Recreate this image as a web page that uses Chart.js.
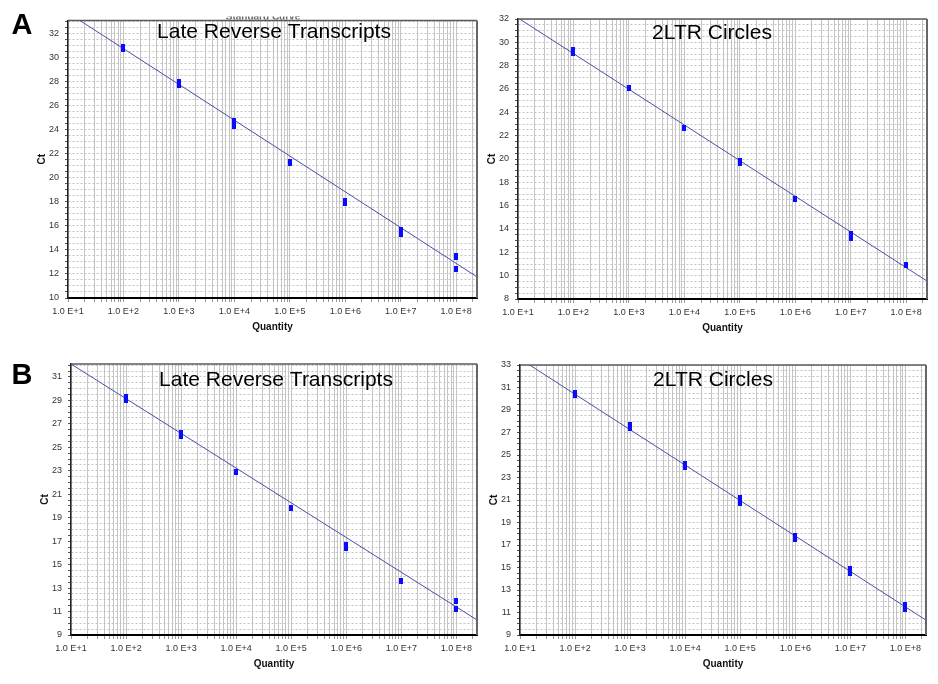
<!DOCTYPE html>
<html>
<head>
<meta charset="utf-8">
<script src="https://cdn.jsdelivr.net/npm/chart.js@4.4.1/dist/chart.umd.min.js"></script>
<style>
  html, body { margin: 0; padding: 0; background: #ffffff; }
  #wrap { position: relative; width: 938px; height: 684px; overflow: hidden; background: #fff; }
  #wrap canvas { position: absolute; left: 0; top: 0; }
</style>
</head>
<body>
<div id="wrap"></div>
<script>
// ---------------- DATA ----------------
const xDecadeValues = [1e1, 1e2, 1e3, 1e4, 1e5, 1e6, 1e7, 1e8];
const xDecadeLabels = ['1.0 E+1', '1.0 E+2', '1.0 E+3', '1.0 E+4', '1.0 E+5', '1.0 E+6', '1.0 E+7', '1.0 E+8'];

// Panel A – Late Reverse Transcripts
const aLrtTitle = 'Late Reverse Transcripts';
const aLrtQty = [1e2, 1e2, 1e3, 1e3, 1e4, 1e4, 1e4, 1e5, 1e5, 1e6, 1e6, 1e7, 1e7, 1e8, 1e8, 1e8];
const aLrtCt  = [30.7, 30.9, 27.7, 28.0, 24.3, 24.5, 24.7, 21.2, 21.3, 17.9, 18.1, 15.7, 15.3, 13.5, 13.4, 12.4];
const aLrtYTicks = [10, 12, 14, 16, 18, 20, 22, 24, 26, 28, 30, 32];
const aLrtFitCt = [33.74, 11.76];

// Panel A – 2LTR Circles
const aCirTitle = '2LTR Circles';
const aCirQty = [1e2, 1e2, 1e3, 1e4, 1e5, 1e5, 1e6, 1e7, 1e7, 1e8];
const aCirCt  = [29.35, 29.1, 26.1, 22.7, 19.85, 19.65, 16.6, 13.6, 13.25, 10.95];
const aCirYTicks = [8, 10, 12, 14, 16, 18, 20, 22, 24, 26, 28, 30, 32];
const aCirFitCt = [32.09, 9.54];

// Panel B – Late Reverse Transcripts
const bLrtTitle = 'Late Reverse Transcripts';
const bLrtQty = [1e2, 1e2, 1e3, 1e3, 1e4, 1e5, 1e6, 1e6, 1e7, 1e8, 1e8];
const bLrtCt  = [29.25, 29.05, 26.2, 26.0, 22.9, 19.85, 16.7, 16.45, 13.6, 11.9, 11.25];
const bLrtYTicks = [9, 11, 13, 15, 17, 19, 21, 23, 25, 27, 29, 31];
const bLrtFitCt = [32.1, 10.28];

// Panel B – 2LTR Circles
const bCirTitle = '2LTR Circles';
const bCirQty = [1e2, 1e2, 1e3, 1e3, 1e4, 1e4, 1e5, 1e5, 1e5, 1e6, 1e6, 1e7, 1e7, 1e8, 1e8];
const bCirCt  = [30.55, 30.3, 27.65, 27.4, 24.2, 23.9, 21.2, 20.9, 20.7, 17.8, 17.5, 14.85, 14.5, 11.7, 11.3];
const bCirYTicks = [9, 11, 13, 15, 17, 19, 21, 23, 25, 27, 29, 31, 33];
const bCirFitCt = [33.55, 10.32];

// standard-curve line end quantities (shared)
const fitQty = [1e1, 2.37e8];
const xMin = 1e1, xMax = 2.37e8;

// ---------------- LAYOUT / STYLE ----------------
Chart.defaults.font.family = '"Liberation Sans", Arial, sans-serif';
const PAGE_W = 938, PAGE_H = 684;
const YW = 32, XH = 36;

// marker: small upright blue rectangle
const marker = document.createElement('canvas');
marker.width = 4; marker.height = 6;
(function () { const c = marker.getContext('2d'); c.fillStyle = '#0a0aff'; c.fillRect(0, 0, 4, 6); })();

const panels = [
  { qty: aLrtQty, ct: aLrtCt, fitCt: aLrtFitCt, yTicks: aLrtYTicks, yMin: 10, yMax: 33.1, title: aLrtTitle,
    area: { l: 68, r: 477, t: 20.5, b: 298 }, tx: 274, ty: 32, letter: 'A', lx: 22, ly: 26, faint: true },
  { qty: aCirQty, ct: aCirCt, fitCt: aCirFitCt, yTicks: aCirYTicks, yMin: 8, yMax: 32, title: aCirTitle,
    area: { l: 518, r: 927, t: 19, b: 299 }, tx: 712, ty: 33.5 },
  { qty: bLrtQty, ct: bLrtCt, fitCt: bLrtFitCt, yTicks: bLrtYTicks, yMin: 9, yMax: 32.1, title: bLrtTitle,
    area: { l: 71, r: 477, t: 364, b: 635 }, tx: 276, ty: 380, letter: 'B', lx: 22, ly: 376 },
  { qty: bCirQty, ct: bCirCt, fitCt: bCirFitCt, yTicks: bCirYTicks, yMin: 9, yMax: 33, title: bCirTitle,
    area: { l: 520, r: 926, t: 365, b: 635 }, tx: 713, ty: 380 }
];

const xTickValues = [];
for (let e = 1; e <= 8; e++) {
  for (let s = 1; s <= 9; s++) {
    const v = s * Math.pow(10, e);
    if (v <= xMax) xTickValues.push(v);
  }
}

const framePlugin = {
  id: 'frame',
  afterDraw(chart, args, opts) {
    const p = opts.panel;
    const { ctx, chartArea: a } = chart;
    ctx.save();
    ctx.strokeStyle = '#5a5a5a';
    ctx.lineWidth = 1.5;
    ctx.beginPath();
    ctx.moveTo(a.left, a.top); ctx.lineTo(a.right, a.top);
    ctx.stroke();
    ctx.lineWidth = 2;
    ctx.strokeStyle = '#666';
    ctx.beginPath();
    ctx.moveTo(a.right, a.top); ctx.lineTo(a.right, a.bottom);
    ctx.stroke();
    ctx.fillStyle = '#000';
    ctx.font = '21px "Liberation Sans", Arial, sans-serif';
    ctx.textAlign = 'center';
    ctx.textBaseline = 'middle';
    ctx.fillText(p.title, p.tx, p.ty);
    if (p.letter) {
      ctx.font = 'bold 29px "Liberation Sans", Arial, sans-serif';
      ctx.fillText(p.letter, p.lx, p.ly);
    }
    if (p.faint) {
      ctx.save();
      ctx.beginPath();
      ctx.rect(200, 16.5, 120, 3);
      ctx.clip();
      ctx.fillStyle = '#666';
      ctx.font = 'bold 10px "Liberation Sans", Arial, sans-serif';
      ctx.textBaseline = 'alphabetic';
      ctx.fillText('Standard Curve', 263, 19.5);
      ctx.restore();
    }
    ctx.restore();
  }
};

function makeChart(p) {
  const canvas = document.createElement('canvas');
  canvas.width = PAGE_W; canvas.height = PAGE_H;
  document.getElementById('wrap').appendChild(canvas);
  const pts = p.qty.map((q, i) => ({ x: q, y: p.ct[i] }));
  const fit = fitQty.map((q, i) => ({ x: q, y: p.fitCt[i] }));
  new Chart(canvas, {
    type: 'scatter',
    data: {
      datasets: [
        { data: pts, pointStyle: marker, pointRadius: 3, pointHoverRadius: 3,
          backgroundColor: '#0a0aff', borderWidth: 0 },
        { data: fit, showLine: true, pointRadius: 0, borderColor: '#4d4da8', borderWidth: 1, fill: false }
      ]
    },
    options: {
      responsive: false, animation: false, devicePixelRatio: 1, events: [],
      layout: { padding: { left: p.area.l - YW, right: PAGE_W - p.area.r, top: p.area.t, bottom: PAGE_H - p.area.b - XH } },
      plugins: { legend: { display: false }, tooltip: { enabled: false }, frame: { panel: p } },
      scales: {
        x: {
          type: 'logarithmic', min: xMin, max: xMax,
          afterFit: s => { s.height = XH; },
          afterBuildTicks: s => { s.ticks = xTickValues.map(v => ({ value: v })); },
          ticks: {
            autoSkip: false, maxRotation: 0, minRotation: 0, padding: 4,
            color: '#333', font: { size: 9 },
            callback: (v) => { const i = xDecadeValues.indexOf(v); return i >= 0 ? xDecadeLabels[i] : ''; }
          },
          grid: { color: '#c4c4c4', lineWidth: 1, tickLength: 4, tickColor: '#9a9a9a' },
          border: { display: true, color: '#000', width: 2 },
          title: { display: true, text: 'Quantity', color: '#111', font: { size: 10, weight: 'bold' }, padding: { top: 0, bottom: 1 } }
        },
        y: {
          type: 'linear', min: p.yMin, max: p.yMax,
          afterFit: s => { s.width = YW; },
          afterBuildTicks: s => {
            const t = [];
            for (let v = p.yMin; v <= p.yMax + 1e-9; v += 0.5) t.push({ value: v });
            s.ticks = t;
          },
          ticks: {
            autoSkip: false, padding: 6, color: '#333', font: { size: 9 },
            callback: (v) => p.yTicks.includes(v) ? String(v) : ''
          },
          grid: { color: '#c2c2c2', lineWidth: 1, tickLength: 3, tickColor: '#555' },
          border: { display: true, color: '#222', width: 1.5, dash: [2, 2] },
          title: { display: true, text: 'Ct', color: '#111', font: { size: 10, weight: 'bold' }, padding: { top: 0, bottom: 0 } }
        }
      }
    },
    plugins: [framePlugin]
  });
}

panels.forEach(makeChart);
</script>
</body>
</html>
